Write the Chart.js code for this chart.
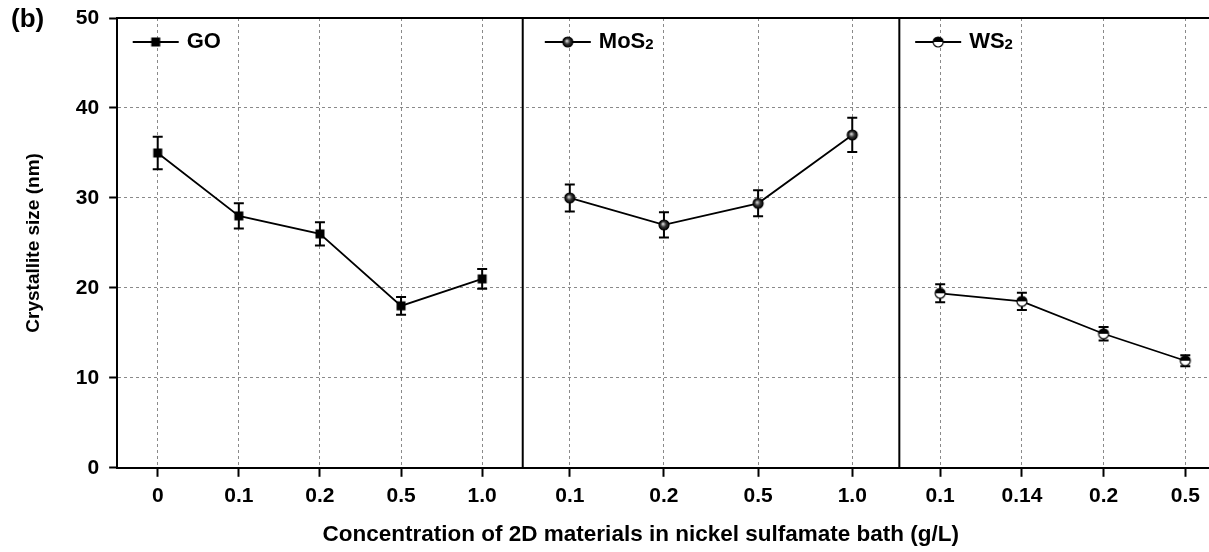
<!DOCTYPE html>
<html lang="en">
<head>
    <meta charset="UTF-8">
    <title>Crystallite size vs concentration</title>
    <script src="https://cdn.jsdelivr.net/npm/chart.js"></script>
    <style>
        html, body { margin: 0; padding: 0; background: #fff; }
        .chart-box { position: relative; width: 1209px; height: 552px; }
    </style>
</head>
<body>
    <div class="chart-box"><canvas id="sizeChart"></canvas></div>

    <script>
        // values (nm)
        const goLabels = ['0', '0.1', '0.2', '0.5', '1.0'];
        const goSize = [35, 28, 26, 18, 21];
        const goErr = [1.8, 1.4, 1.3, 1.0, 1.1];

        const mosLabels = ['0.1', '0.2', '0.5', '1.0'];
        const mosSize = [30, 27, 29.4, 37];
        const mosErr = [1.5, 1.4, 1.45, 1.9];

        const wsLabels = ['0.1', '0.14', '0.2', '0.5'];
        const wsSize = [19.4, 18.5, 14.9, 11.9];
        const wsErr = [1.0, 0.95, 0.75, 0.6];

        const yTicks = [0, 10, 20, 30, 40, 50];

        const FONT = "'Liberation Sans', Arial, sans-serif";
        Chart.defaults.font.family = FONT;
        Chart.defaults.color = '#000';

        function makeMarker(kind) {
            const c = document.createElement('canvas');
            c.width = 14; c.height = 14;
            const g = c.getContext('2d');
            g.strokeStyle = '#000';
            g.lineWidth = 1.2;
            if (kind === 'square') {
                g.fillStyle = '#000';
                g.fillRect(2.5, 2.5, 9, 9);
            } else if (kind === 'sphere') {
                const grad = g.createRadialGradient(6, 6, 0.5, 7, 7, 5.5);
                grad.addColorStop(0, '#c8c8c8');
                grad.addColorStop(0.45, '#333');
                grad.addColorStop(1, '#000');
                g.fillStyle = grad;
                g.beginPath(); g.arc(7, 7, 5, 0, Math.PI * 2); g.fill(); g.stroke();
            } else {
                g.fillStyle = '#fff';
                g.beginPath(); g.arc(7, 7, 5, 0, Math.PI * 2); g.fill();
                g.fillStyle = '#000';
                g.beginPath(); g.arc(7, 7, 5, Math.PI, 0); g.closePath(); g.fill();
                g.beginPath(); g.arc(7, 7, 5, 0, Math.PI * 2); g.stroke();
            }
            return c;
        }

        const panels = [
            { axis: 'x1', name: 'GO', sub: '', labels: goLabels, values: goSize, errors: goErr, marker: makeMarker('square') },
            { axis: 'x2', name: 'MoS', sub: '2', labels: mosLabels, values: mosSize, errors: mosErr, marker: makeMarker('sphere') },
            { axis: 'x3', name: 'WS', sub: '2', labels: wsLabels, values: wsSize, errors: wsErr, marker: makeMarker('half') }
        ];

        const gridGray = '#8a8a8a';
        const tickFont = { size: 21, weight: 'bold' };

        function xScale(labels, max, weight) {
            return {
                type: 'linear',
                position: 'bottom',
                stack: 'panels',
                stackWeight: weight,
                min: -0.5,
                max: max,
                afterBuildTicks: s => { s.ticks = labels.map((_, i) => ({ value: i })); },
                // panels share one row, so no label overhang padding
                afterFit: s => { s.paddingLeft = 0; s.paddingRight = 0; },
                ticks: {
                    callback: v => labels[v],
                    autoSkip: false,
                    maxRotation: 0,
                    padding: 7,
                    color: '#000',
                    font: tickFont
                },
                grid: { color: gridGray, lineWidth: 1, tickColor: '#000', tickWidth: 2, tickLength: 9 },
                border: { display: true, color: '#000', width: 2, dash: [3, 3] }
            };
        }

        // error bars, frame, per-panel legends and loose texts
        const framePlugin = {
            id: 'frame',
            beforeDatasetsDraw(chart) {
                const ctx = chart.ctx;
                const y = chart.scales.y;
                ctx.save();
                ctx.strokeStyle = '#000';
                ctx.lineWidth = 2;
                panels.forEach(p => {
                    const xs = chart.scales[p.axis];
                    p.values.forEach((v, i) => {
                        const px = xs.getPixelForValue(i);
                        const top = y.getPixelForValue(v + p.errors[i]);
                        const bot = y.getPixelForValue(v - p.errors[i]);
                        ctx.beginPath();
                        ctx.moveTo(px, top); ctx.lineTo(px, bot);
                        ctx.moveTo(px - 5, top); ctx.lineTo(px + 5, top);
                        ctx.moveTo(px - 5, bot); ctx.lineTo(px + 5, bot);
                        ctx.stroke();
                    });
                });
                ctx.restore();
            },
            afterDraw(chart) {
                const ctx = chart.ctx;
                const a = chart.chartArea;
                ctx.save();
                ctx.strokeStyle = '#000';
                ctx.lineWidth = 2;
                ctx.beginPath();
                ctx.moveTo(a.left - 1, a.top); ctx.lineTo(a.right, a.top);
                ['x2', 'x3'].forEach(id => {
                    const s = chart.scales[id];
                    ctx.moveTo(s.left, a.top); ctx.lineTo(s.left, a.bottom);
                });
                ctx.stroke();

                // legends
                const ly = a.top + 24;
                panels.forEach(p => {
                    const mx = chart.scales[p.axis].getPixelForValue(0) - 2;
                    ctx.lineWidth = 2;
                    ctx.beginPath();
                    ctx.moveTo(mx - 23, ly); ctx.lineTo(mx + 23, ly);
                    ctx.stroke();
                    ctx.drawImage(p.marker, mx - 7, ly - 7);
                    ctx.fillStyle = '#000';
                    ctx.textBaseline = 'middle';
                    ctx.textAlign = 'left';
                    ctx.font = 'bold 22px ' + FONT;
                    ctx.fillText(p.name, mx + 31, ly);
                    if (p.sub) {
                        const w = ctx.measureText(p.name).width;
                        ctx.font = 'bold 15px ' + FONT;
                        ctx.fillText(p.sub, mx + 31 + w, ly + 3);
                    }
                });

                ctx.font = 'bold 26px ' + FONT;
                ctx.textBaseline = 'middle';
                ctx.textAlign = 'left';
                ctx.fillText('(b)', 11, 20);

                ctx.font = 'bold 22.5px ' + FONT;
                ctx.textAlign = 'center';
                ctx.fillText('Concentration of 2D materials in nickel sulfamate bath (g/L)', chart.width * 0.53, 535);
                ctx.restore();
            }
        };

        const datasets = panels.map(p => ({
            label: p.name + p.sub,
            xAxisID: p.axis,
            yAxisID: 'y',
            data: p.values.map((v, i) => ({ x: i, y: v })),
            borderColor: '#000',
            borderWidth: 1.8,
            tension: 0,
            fill: false,
            pointStyle: p.marker,
            pointRadius: 5
        }));

        new Chart(document.getElementById('sizeChart'), {
            type: 'line',
            data: { datasets: datasets },
            options: {
                responsive: true,
                maintainAspectRatio: false,
                animation: false,
                layout: { autoPadding: false, padding: { top: 18, right: 0, bottom: 36, left: 0 } },
                plugins: { legend: { display: false }, tooltip: { enabled: false } },
                scales: {
                    x1: xScale(goLabels, 4.5, 406),
                    x2: xScale(mosLabels, 3.5, 377),
                    x3: xScale(wsLabels, 3.29, 310),
                    y: {
                        min: 0,
                        max: 50,
                        afterBuildTicks: s => { s.ticks = yTicks.map(v => ({ value: v })); },
                        afterFit: s => { s.paddingTop = 0; s.paddingBottom = 0; },
                        title: {
                            display: true,
                            text: 'Crystallite size (nm)',
                            color: '#000',
                            font: { size: 19, weight: 'bold' },
                            padding: { top: 22, bottom: 21 }
                        },
                        ticks: { color: '#000', padding: 10, font: tickFont },
                        grid: { color: gridGray, lineWidth: 1, tickColor: '#000', tickWidth: 2, tickLength: 8 },
                        border: { display: true, color: '#000', width: 2, dash: [3, 3] }
                    }
                }
            },
            plugins: [framePlugin]
        });
    </script>
</body>
</html>
